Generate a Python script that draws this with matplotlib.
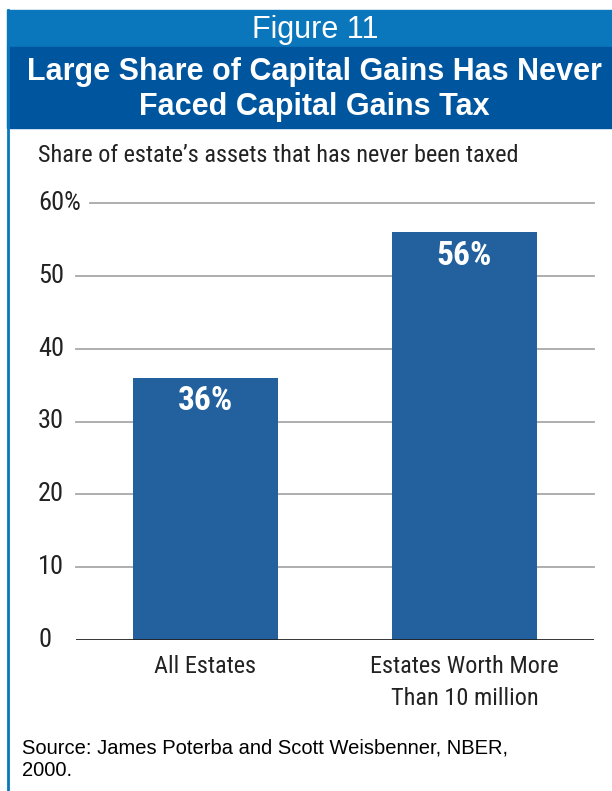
import matplotlib.pyplot as plt
from matplotlib.patches import Rectangle
from matplotlib.lines import Line2D
from matplotlib.transforms import blended_transform_factory

# data
categories = ["All Estates", "Estates Worth More\nThan 10 million"]
shares = [36, 56]
value_labels = ["36%", "56%"]
y_ticks = [0, 10, 20, 30, 40, 50, 60]
y_tick_labels = ["0", "10", "20", "30", "40", "50", "60%"]

narrow = ["Roboto Condensed", "Roboto", "DejaVu Sans"]
light_blue = "#0a77bd"
dark_blue = "#00559f"
bar_blue = "#22609e"

W, H = 612, 791
fig = plt.figure(figsize=(W / 100, H / 100), dpi=100)

def fx(px):
    return px / W

def fy(py):
    return 1 - py / H

# header bands
fig.patches.append(Rectangle((fx(7), fy(47)), 1, fy(10) - fy(47),
                             transform=fig.transFigure, color=light_blue, zorder=0))
fig.patches.append(Rectangle((fx(7), fy(128)), 1, fy(47) - fy(128),
                             transform=fig.transFigure, color=dark_blue, zorder=0))
# left border
fig.lines.append(Line2D([fx(8), fx(8)], [0, fy(10)], transform=fig.transFigure,
                        color=light_blue, lw=2))

fig.text(fx(315), fy(30), "Figure 11", color="white", fontsize=22,
         family="Liberation Sans", ha="center", va="center")
fig.text(fx(314), fy(72), "Large Share of Capital Gains Has Never", color="white",
         fontsize=22, family="Liberation Sans", weight="bold", ha="center", va="center")
fig.text(fx(314), fy(107), "Faced Capital Gains Tax", color="white",
         fontsize=22, family="Liberation Sans", weight="bold", ha="center", va="center")

fig.text(fx(38), fy(156), "Share of estate\u2019s assets that has never been taxed",
         fontsize=17.5, family=narrow, color="#222222", ha="left", va="center")

# axes
ax = fig.add_axes([fx(76), fy(640), fx(594) - fx(76), fy(203) - fy(640)])
x = list(range(len(categories)))
ax.bar(x, shares, width=0.56, color=bar_blue, zorder=2)
ax.set_xlim(-0.5, 1.5)
ax.set_ylim(0, 60)

for v in y_ticks[1:]:
    xmin = 14 / 518 if v == 60 else 0
    ax.axhline(v, xmin=xmin, color="#a8a8a8", lw=1.3, zorder=1, clip_on=False)
ax.axhline(0, color="#222222", lw=2, zorder=3)

for s in ax.spines.values():
    s.set_visible(False)
ax.set_xticks([])
ax.set_yticks([])

# y tick labels (left aligned in figure)
tick_tr = blended_transform_factory(fig.transFigure, ax.transData)
for v, lab in zip(y_ticks, y_tick_labels):
    ax.text(fx(38), v, lab, transform=tick_tr, fontsize=19, family=narrow,
            color="#222222", ha="left", va="center", clip_on=False)

# bar value labels
for xi, s, lab in zip(x, shares, value_labels):
    ax.annotate(lab, (xi, s), xytext=(0, -17), textcoords="offset points",
                ha="center", va="center", color="white", fontsize=24,
                family=narrow, weight="bold")

# category labels
for xi, cat in zip(x, categories):
    ax.text(xi, -2.0, cat, ha="center", va="top", fontsize=17.5, family=narrow,
            color="#222222", linespacing=1.5)

fig.text(fx(22), fy(748), "Source: James Poterba and Scott Weisbenner, NBER,",
         fontsize=14.5, family="Liberation Sans", color="black", ha="left", va="center")
fig.text(fx(22), fy(771), "2000.",
         fontsize=14.5, family="Liberation Sans", color="black", ha="left", va="center")

fig.savefig("out.png", dpi=100)
